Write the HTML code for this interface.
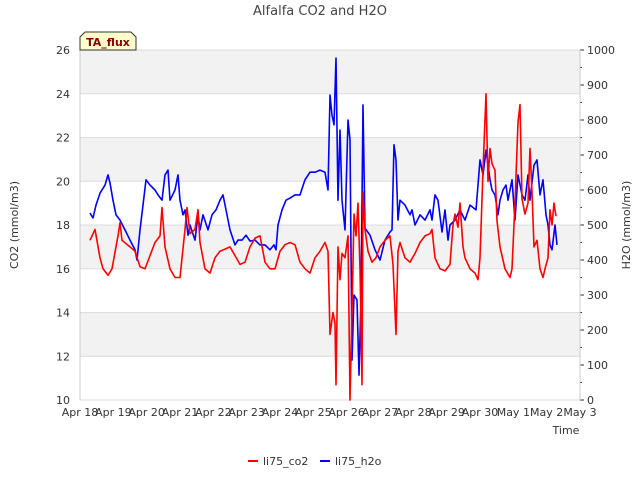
<!DOCTYPE html>
<html><head><meta charset="utf-8"><style>
body{margin:0;background:#fff;font-family:"Liberation Sans","DejaVu Sans",sans-serif;}
svg text{font-family:"DejaVu Sans","Liberation Sans",sans-serif;}
</style></head><body>
<svg id="chart" width="640" height="480" xmlns="http://www.w3.org/2000/svg"></svg>
<script>
const xTickLabels=["Apr 18","Apr 19","Apr 20","Apr 21","Apr 22","Apr 23","Apr 24","Apr 25","Apr 26","Apr 27","Apr 28","Apr 29","Apr 30","May 1","May 2","May 3"];
const leftTicks=[10,12,14,16,18,20,22,24,26];
const rightTicks=[0,100,200,300,400,500,600,700,800,900,1000];
const co2Times=[0.3,0.45,0.6,0.69,0.84,0.96,1.14,1.2,1.26,1.5,1.65,1.8,1.95,2.1,2.25,2.4,2.46,2.55,2.7,2.85,3.0,3.15,3.21,3.3,3.45,3.54,3.6,3.75,3.9,4.05,4.2,4.35,4.5,4.65,4.8,4.95,5.1,5.25,5.4,5.55,5.7,5.85,6.0,6.15,6.3,6.45,6.6,6.75,6.9,7.05,7.2,7.35,7.44,7.5,7.59,7.65,7.68,7.74,7.8,7.86,7.95,8.04,8.1,8.16,8.22,8.28,8.34,8.4,8.46,8.49,8.55,8.64,8.76,8.88,9.0,9.15,9.3,9.39,9.48,9.54,9.6,9.75,9.9,10.05,10.2,10.35,10.5,10.56,10.65,10.8,10.95,11.1,11.19,11.25,11.34,11.4,11.49,11.55,11.7,11.85,11.94,12.0,12.09,12.18,12.24,12.3,12.36,12.45,12.51,12.6,12.75,12.9,12.96,13.05,13.14,13.2,13.26,13.35,13.44,13.5,13.56,13.62,13.71,13.8,13.89,13.95,14.04,14.1,14.16,14.22,14.28];
const co2Vals=[17.3,17.8,16.5,16.0,15.7,16.0,17.5,18.1,17.3,17.0,16.8,16.1,16.0,16.6,17.2,17.5,18.8,17.0,16.0,15.6,15.6,17.8,18.8,17.6,17.8,18.7,17.2,16.0,15.8,16.5,16.8,16.9,17.0,16.6,16.2,16.3,17.0,17.4,17.5,16.3,16.0,16.0,16.8,17.1,17.2,17.1,16.3,16.0,15.8,16.5,16.8,17.2,16.8,13.0,14.0,13.5,10.7,17.0,15.5,16.7,16.5,17.5,10.0,14.0,18.5,17.5,19.0,16.0,10.7,19.5,17.8,16.8,16.3,16.5,17.0,17.3,17.5,16.2,13.0,16.8,17.2,16.5,16.3,16.7,17.2,17.5,17.6,17.8,16.5,16.0,15.9,16.2,18.0,18.5,17.9,19.0,17.0,16.5,16.0,15.8,15.5,16.5,20.5,24.0,20.0,21.5,20.8,20.5,18.2,17.0,16.0,15.6,16.0,19.0,22.7,23.5,19.2,18.5,19.0,21.5,19.5,17.0,17.3,16.0,15.6,16.0,16.5,18.7,18.0,19.0,18.4];
const h2oTimes=[0.3,0.39,0.48,0.6,0.75,0.84,0.9,0.99,1.08,1.2,1.35,1.5,1.65,1.71,1.8,1.89,1.98,2.1,2.25,2.34,2.46,2.55,2.64,2.7,2.85,2.94,3.0,3.09,3.15,3.24,3.3,3.45,3.54,3.6,3.69,3.84,3.96,4.08,4.2,4.29,4.38,4.5,4.65,4.74,4.86,4.98,5.1,5.25,5.4,5.55,5.7,5.82,5.88,5.94,6.06,6.18,6.3,6.45,6.6,6.75,6.9,7.05,7.2,7.35,7.44,7.5,7.56,7.62,7.68,7.74,7.8,7.86,7.95,8.04,8.1,8.16,8.22,8.31,8.37,8.43,8.49,8.55,8.7,8.85,9.0,9.15,9.3,9.36,9.42,9.48,9.54,9.6,9.75,9.9,9.96,10.05,10.2,10.35,10.5,10.56,10.65,10.74,10.86,10.95,11.04,11.1,11.25,11.4,11.55,11.7,11.88,12.0,12.09,12.18,12.3,12.36,12.45,12.54,12.6,12.69,12.78,12.84,12.96,13.05,13.14,13.26,13.35,13.44,13.5,13.62,13.71,13.8,13.89,13.98,14.04,14.1,14.16,14.25,14.31];
const h2oVals=[534,520,557,591,614,643,620,571,529,514,486,457,429,400,486,557,629,614,600,586,571,643,657,571,600,643,571,529,543,471,500,457,529,486,529,486,529,543,571,586,543,486,443,457,457,471,454,457,443,443,429,443,429,500,543,571,577,586,586,629,651,651,657,651,600,871,814,786,977,571,771,571,486,800,743,114,300,286,71,286,843,491,471,429,400,457,480,486,729,686,514,571,557,529,543,500,529,514,543,514,586,571,480,543,457,500,514,543,514,557,543,686,643,714,629,600,586,529,571,600,614,571,629,514,643,586,571,643,571,671,686,586,629,529,500,443,429,500,443];

const svg=document.getElementById('chart');
const NS='http://www.w3.org/2000/svg';
const L=80,R=580,T=50,B=400;
const xS=d=>L+d*(R-L)/15;
const yL=v=>B-(v-10)*(B-T)/16;
const yR=v=>B-v*(B-T)/1000;
function mk(tag,attrs,parent){const e=document.createElementNS(NS,tag);for(const k in attrs)e.setAttribute(k,attrs[k]);(parent||svg).appendChild(e);return e;}
function txt(s,attrs){const e=mk('text',attrs);e.textContent=s;return e;}

// background bands
for(let i=0;i<leftTicks.length-1;i++){
  const v=leftTicks[i];
  const r=mk('rect',{x:L,y:yL(v+2),width:R-L,height:yL(v)-yL(v+2),fill:(i%2===1)?'#f2f2f2':'#ffffff'});
  
  
}
leftTicks.forEach(v=>{
  const g=mk('line',{x1:L,x2:R,y1:yL(v),y2:yL(v),stroke:'#dcdcdc','stroke-width':1});
  
  
  const t=txt(String(v),{x:L-10,y:yL(v)+4,'text-anchor':'end','font-size':11,fill:'#333'});
  
  
});
rightTicks.forEach(v=>{
  const tk=mk('line',{x1:R,x2:R+4,y1:yR(v),y2:yR(v),stroke:'#333'});
  
  
  const t=txt(String(v),{x:R+7,y:yR(v)+4,'font-size':11,fill:'#333'});
  
  
  if(v<1000){const m=mk('line',{x1:R,x2:R+2,y1:yR(v+50),y2:yR(v+50),stroke:'#333'});
  
  }
});
xTickLabels.forEach((s,i)=>{
  const t=txt(s,{x:xS(i),y:416,'text-anchor':'middle','font-size':11,fill:'#333'});
  
  
});
const ax=mk('line',{x1:L,x2:L,y1:T,y2:B,stroke:'#ccc'});


const ax2=mk('line',{x1:R,x2:R,y1:T,y2:B,stroke:'#ccc'});



function series(times,vals,ys,color,name){
  const n=Math.min(times.length,vals.length);
  let d='';
  for(let i=0;i<n;i++)d+=(i?'L':'M')+xS(times[i]).toFixed(1)+','+ys(vals[i]).toFixed(1);
  const p=mk('path',{d:d,fill:'none',stroke:color,'stroke-width':1.6,'stroke-linejoin':'round'});
  
  
}
series(h2oTimes,h2oVals,yR,'#0000ff','h2o-line');
series(co2Times,co2Vals,yL,'#ff0000','co2-line');

let t;
t=txt('Alfalfa CO2 and H2O',{x:320,y:15,'text-anchor':'middle','font-size':13,fill:'#444'});

t=txt('CO2 (mmol/m3)',{x:0,y:0,'text-anchor':'middle','font-size':11,fill:'#333',transform:'translate(18,225) rotate(-90)'});

t=txt('H2O (mmol/m3)',{x:0,y:0,'text-anchor':'middle','font-size':11,fill:'#333',transform:'translate(630,225) rotate(-90)'});

t=txt('Time',{x:566,y:434,'text-anchor':'middle','font-size':11,fill:'#333'});


const box=mk('path',{d:'M80,50 L80,37 L85,32 L131,32 L136,37 L136,50 Z',fill:'#ffffcc',stroke:'#333','stroke-width':1});

t=txt('TA_flux',{x:108,y:46,'text-anchor':'middle','font-size':11,'font-weight':'bold',fill:'#8b0000'});


let l=mk('line',{x1:248,x2:258,y1:461,y2:461,stroke:'#ff0000','stroke-width':2});

t=txt('li75_co2',{x:263,y:465,'font-size':11,fill:'#333'});

l=mk('line',{x1:320,x2:330,y1:461,y2:461,stroke:'#0000ff','stroke-width':2});

t=txt('li75_h2o',{x:335,y:465,'font-size':11,fill:'#333'});

</script>
</body></html>
